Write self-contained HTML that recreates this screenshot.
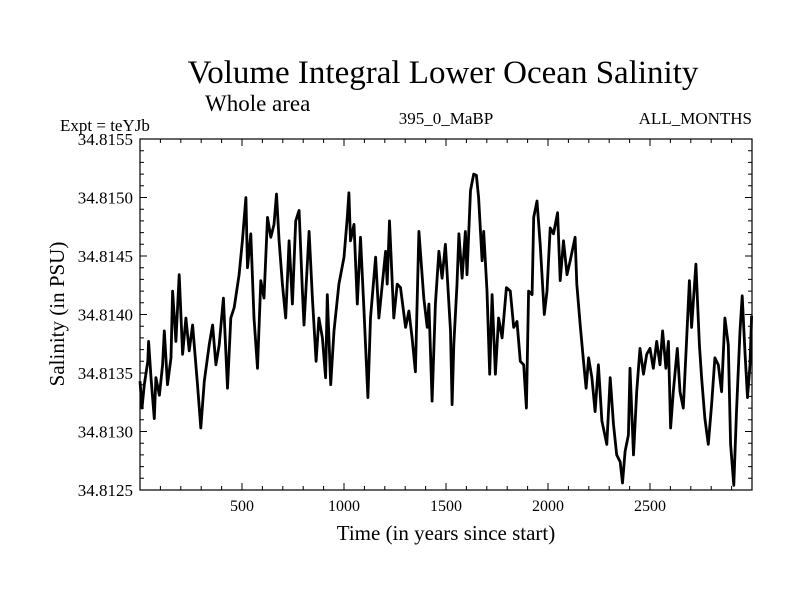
<!DOCTYPE html>
<html><head><meta charset="utf-8"><style>
body{margin:0;background:#fff}
svg{display:block}
text{font-family:"Liberation Serif",serif;fill:#000}
</style></head><body>
<svg id="c" width="800" height="600" xmlns="http://www.w3.org/2000/svg">
<rect width="800" height="600" fill="#fff"/>
<text x="443" y="83" font-size="33" text-anchor="middle">Volume Integral Lower Ocean Salinity</text>
<text x="205" y="111" font-size="23">Whole area</text>
<text x="60" y="131" font-size="17">Expt = teYJb</text>
<text x="446" y="124" font-size="17" text-anchor="middle">395_0_MaBP</text>
<text x="752" y="124" font-size="17" text-anchor="end">ALL_MONTHS</text>
<text x="446" y="540" font-size="21" text-anchor="middle">Time (in years since start)</text>
<text x="0" y="0" font-size="21" text-anchor="middle" transform="translate(64,314) rotate(-90)">Salinity (in PSU)</text>
<g id="plot"></g>
</svg>
<script>
const years=[0,10,21,38,42,54,70,78,95,111,119,135,152,160,176,192,209,225,241,258,282,298,315,339,356,372,388,409,429,445,462,486,502,519,527,543,559,576,592,608,625,641,657,669,682,698,714,731,747,763,780,796,804,829,845,863,877,894,910,918,935,951,975,1000,1016,1024,1032,1049,1065,1081,1098,1117,1130,1155,1171,1204,1212,1223,1244,1261,1277,1302,1318,1334,1350,1367,1391,1408,1416,1432,1448,1465,1481,1497,1522,1530,1538,1554,1563,1579,1595,1603,1620,1636,1649,1660,1677,1685,1701,1714,1726,1742,1758,1775,1796,1815,1832,1848,1864,1881,1894,1905,1922,1930,1946,1962,1982,1995,2011,2027,2047,2060,2076,2093,2109,2133,2141,2158,2174,2187,2199,2215,2231,2247,2264,2288,2305,2321,2337,2354,2365,2378,2394,2402,2419,2435,2451,2468,2484,2500,2516,2533,2549,2562,2578,2590,2601,2614,2634,2647,2663,2680,2693,2704,2725,2742,2753,2769,2786,2802,2818,2835,2851,2867,2884,2895,2911,2924,2941,2952,2965,2978,2990,2998];
const salinity=[34.81343,34.81320,34.81340,34.81360,34.81377,34.81346,34.81311,34.81346,34.81331,34.81357,34.81386,34.81340,34.81363,34.81420,34.81377,34.81434,34.81366,34.81397,34.81369,34.81391,34.81340,34.81303,34.81343,34.81374,34.81391,34.81357,34.81374,34.81414,34.81337,34.81397,34.81406,34.81434,34.81463,34.81500,34.81440,34.81469,34.81397,34.81354,34.81429,34.81414,34.81483,34.81466,34.81477,34.81503,34.81463,34.81426,34.81397,34.81463,34.81409,34.81480,34.81489,34.81420,34.81391,34.81471,34.81414,34.81360,34.81397,34.81380,34.81346,34.81417,34.81340,34.81386,34.81426,34.81449,34.81483,34.81504,34.81463,34.81477,34.81409,34.81466,34.81403,34.81329,34.81397,34.81449,34.81397,34.81454,34.81426,34.81480,34.81397,34.81426,34.81423,34.81389,34.81403,34.81380,34.81351,34.81471,34.81414,34.81389,34.81409,34.81326,34.81409,34.81454,34.81431,34.81460,34.81386,34.81323,34.81374,34.81426,34.81469,34.81431,34.81471,34.81434,34.81506,34.81520,34.81519,34.81500,34.81446,34.81471,34.81420,34.81349,34.81417,34.81349,34.81397,34.81380,34.81423,34.81420,34.81389,34.81394,34.81360,34.81357,34.81320,34.81420,34.81417,34.81483,34.81497,34.81460,34.81400,34.81420,34.81474,34.81469,34.81487,34.81429,34.81463,34.81434,34.81446,34.81466,34.81426,34.81391,34.81360,34.81337,34.81363,34.81346,34.81317,34.81357,34.81309,34.81289,34.81346,34.81306,34.81280,34.81274,34.81256,34.81283,34.81297,34.81354,34.81280,34.81334,34.81371,34.81349,34.81366,34.81371,34.81354,34.81377,34.81357,34.81386,34.81354,34.81377,34.81303,34.81334,34.81371,34.81334,34.81320,34.81380,34.81429,34.81389,34.81443,34.81374,34.81346,34.81311,34.81289,34.81323,34.81363,34.81357,34.81334,34.81397,34.81374,34.81289,34.81254,34.81317,34.81386,34.81416,34.81369,34.81329,34.81357,34.81399];
const xTickLabels=[500,1000,1500,2000,2500];
const yTickLabels=["34.8125","34.8130","34.8135","34.8140","34.8145","34.8150","34.8155"];

const X0=140,X1=752,Y0=139,Y1=490,XMIN=0,XMAX=3000,YMIN=34.8125,YMAX=34.8155;
const sx=v=>X0+(v-XMIN)/(XMAX-XMIN)*(X1-X0);
const sy=v=>Y1-(v-YMIN)/(YMAX-YMIN)*(Y1-Y0);
const NS="http://www.w3.org/2000/svg";
const g=document.getElementById('plot');
function mk(tag,attrs){const e=document.createElementNS(NS,tag);for(const k in attrs)e.setAttribute(k,attrs[k]);g.appendChild(e);return e;}

let d='';
years.forEach((y,i)=>{d+=(i?'L':'M')+sx(y).toFixed(1)+','+sy(salinity[i]).toFixed(1);});
const line=mk('path',{d:d,fill:'none',stroke:'#000','stroke-width':2.8,'stroke-linejoin':'round'});



const frame=mk('rect',{x:X0,y:Y0,width:X1-X0,height:Y1-Y0,fill:'none',stroke:'#000','stroke-width':1.2});



let td='';
for(let t=100;t<XMAX;t+=100){const x=sx(t),L=(t%500===0)?7:4;td+=`M${x},${Y1}v${-L}M${x},${Y0}v${L}`;}
for(let k=1;k<30;k++){const v=YMIN+k*0.0001,y=sy(v),L=(k%5===0)?7:4;td+=`M${X0},${y}h${L}M${X1},${y}h${-L}`;}
const ticks=mk('path',{d:td,stroke:'#000','stroke-width':1});



xTickLabels.forEach(t=>{
  const e=mk('text',{x:sx(t),y:Y1+21,'font-size':16,'text-anchor':'middle'});
  e.textContent=t;
  
  
});
yTickLabels.forEach(t=>{
  const e=mk('text',{x:X0-7,y:sy(parseFloat(t))+6,'font-size':17,'text-anchor':'end'});
  e.textContent=t;
  
  
});
</script>
</body></html>
